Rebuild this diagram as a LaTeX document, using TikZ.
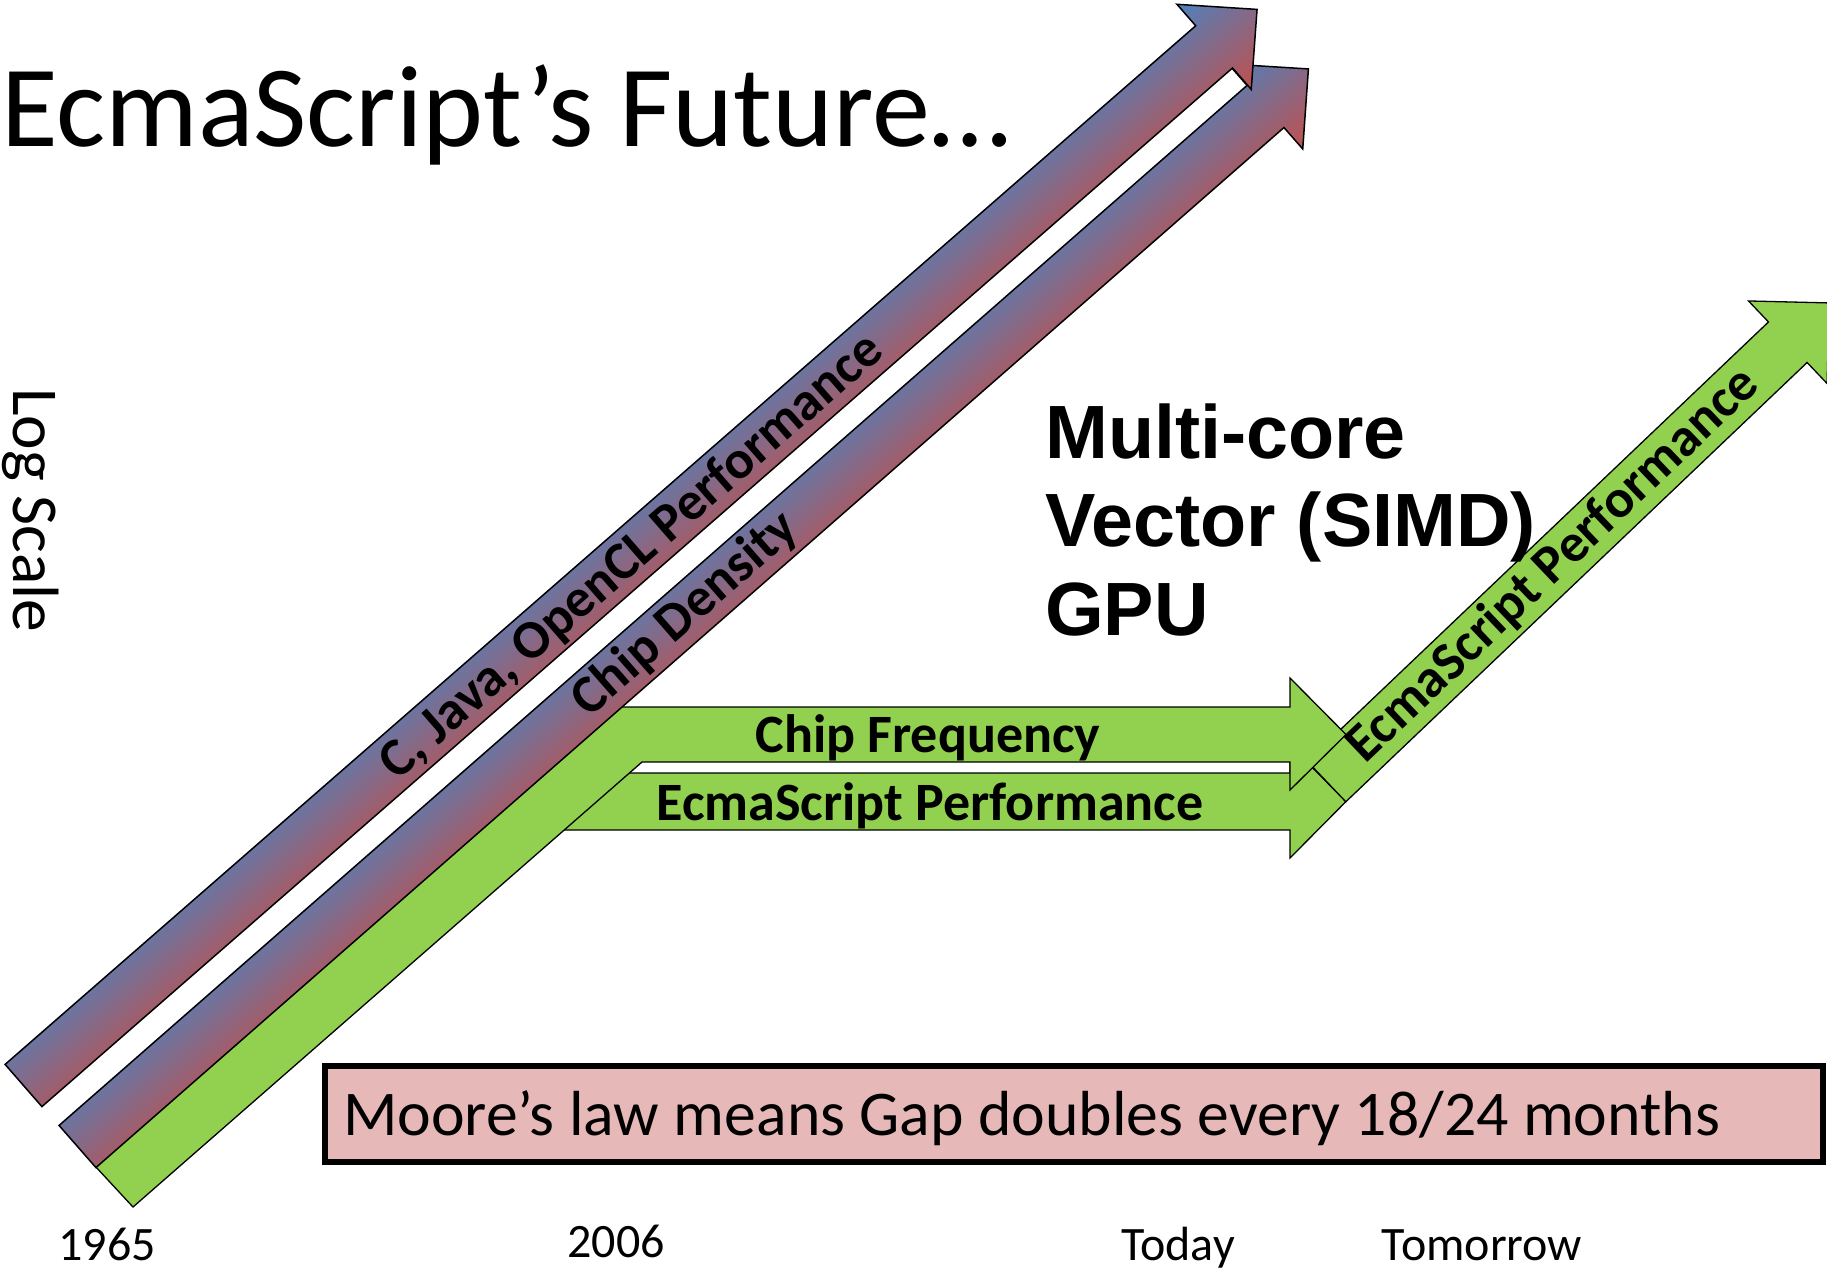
\documentclass[tikz,border=0pt]{standalone}
\usepackage{fontspec}
\setmainfont{Carlito}
\newfontfamily\arialfam{Liberation Sans}
\definecolor{gblue}{HTML}{4F81BD}
\definecolor{gred}{HTML}{C0504D}
\definecolor{lgreen}{HTML}{92D050}
\definecolor{pinkbox}{HTML}{E6B9B8}
\begin{document}
\begin{tikzpicture}[x=1pt,y=-1pt,
  mauve/.style={draw=black, line width=1.5pt, top color=gblue, bottom color=gred},
  greenarrow/.style={draw=black, line width=1.3pt, fill=lgreen},
  arrowlabel/.style={font=\fontsize{54}{60}\selectfont\bfseries, inner sep=0pt},
  datelabel/.style={font=\fontsize{48}{50}\selectfont, inner sep=0pt, anchor=base},
  bigbold/.style={font=\arialfam\bfseries\fontsize{75.5}{80}\selectfont, inner sep=0pt, anchor=base west},
]
\useasboundingbox (0,0) rectangle (1827,1269);
\fill[white] (0,0) rectangle (1827,1269);
\clip (0,0) rectangle (1827,1269);

% title
\node[font=\fontsize{116}{120}\selectfont, anchor=base west, inner sep=0pt] (title) at (1,146) {EcmaScript’s Future…};

% axis label
\node[font=\fontsize{65.5}{68}\selectfont, rotate=-90, anchor=base west, inner sep=0pt] (logscale) at (13,388) {Log Scale};

% lower horizontal arrow
\draw[greenarrow] (558,773) -- (1290,773) -- (1290,745) -- (1346,801.5) -- (1290,858) -- (1290,830) -- (558,830) -- cycle;
\node[arrowlabel, anchor=base] (ecmah) at (930,820) {EcmaScript Performance};

% diagonal green arrow (tomorrow)
\begin{scope}[transform canvas={shift={(1326.5,781.5)}, rotate=43.6}]
\draw[greenarrow] (0,-28) -- (637,-28) -- (637,-57) -- (694,0) -- (637,57) -- (637,28) -- (0,28) -- cycle;
\node[arrowlabel] (ecmad) at (313,0) {EcmaScript Performance};
\end{scope}

% chip frequency bent arrow
\draw[greenarrow] (95,1166) -- (133,1207) -- (642,762) -- (1290,762) -- (1290,790) -- (1346,734.5) -- (1290,678) -- (1290,707) -- (620,707) -- cycle;
\node[arrowlabel, anchor=base] (chipfreq) at (928,752) {Chip Frequency};

% chip density arrow
\begin{scope}[transform canvas={shift={(77.5,1146.5)}, rotate=41.2}]
\path[mauve] (0,-28) -- (1579,-28) -- (1579,-56.5) -- (1636,0) -- (1579,56.5) -- (1579,28) -- (0,28) -- cycle;
\node[arrowlabel] (chipdens) at (808,0) {Chip Density};
\end{scope}

% C, Java, OpenCL arrow
\begin{scope}[transform canvas={shift={(23.5,1085.5)}, rotate=41.1}]
\path[mauve] (0,-28) -- (1580,-28) -- (1580,-56.5) -- (1637,0) -- (1580,56.5) -- (1580,28) -- (0,28) -- cycle;
\node[arrowlabel] (cjava) at (806,2) {C, Java, OpenCL Performance};
\end{scope}

% multi-core text
\node[bigbold] (mc1) at (1045,458) {Multi-core};
\node[bigbold] (mc2) at (1045,546) {Vector (SIMD)};
\node[bigbold] (mc3) at (1045,635) {GPU};

% Moore box
\node[draw=black, line width=6pt, fill=pinkbox, minimum width=1498pt, minimum height=96pt, inner sep=0pt] (moorebox) at (1074,1114) {};
\node[font=\fontsize{63.7}{66}\selectfont, anchor=base west, inner sep=0pt] (moore) at (343,1135) {Moore’s law means Gap doubles every 18/24 months};

% dates
\node[datelabel] (y1965) at (107,1260) {1965};
\node[datelabel] (y2006) at (616,1257) {2006};
\node[datelabel] (today) at (1178,1260) {Today};
\node[datelabel] (tomorrow) at (1482,1260) {Tomorrow};
\end{tikzpicture}
\end{document}
